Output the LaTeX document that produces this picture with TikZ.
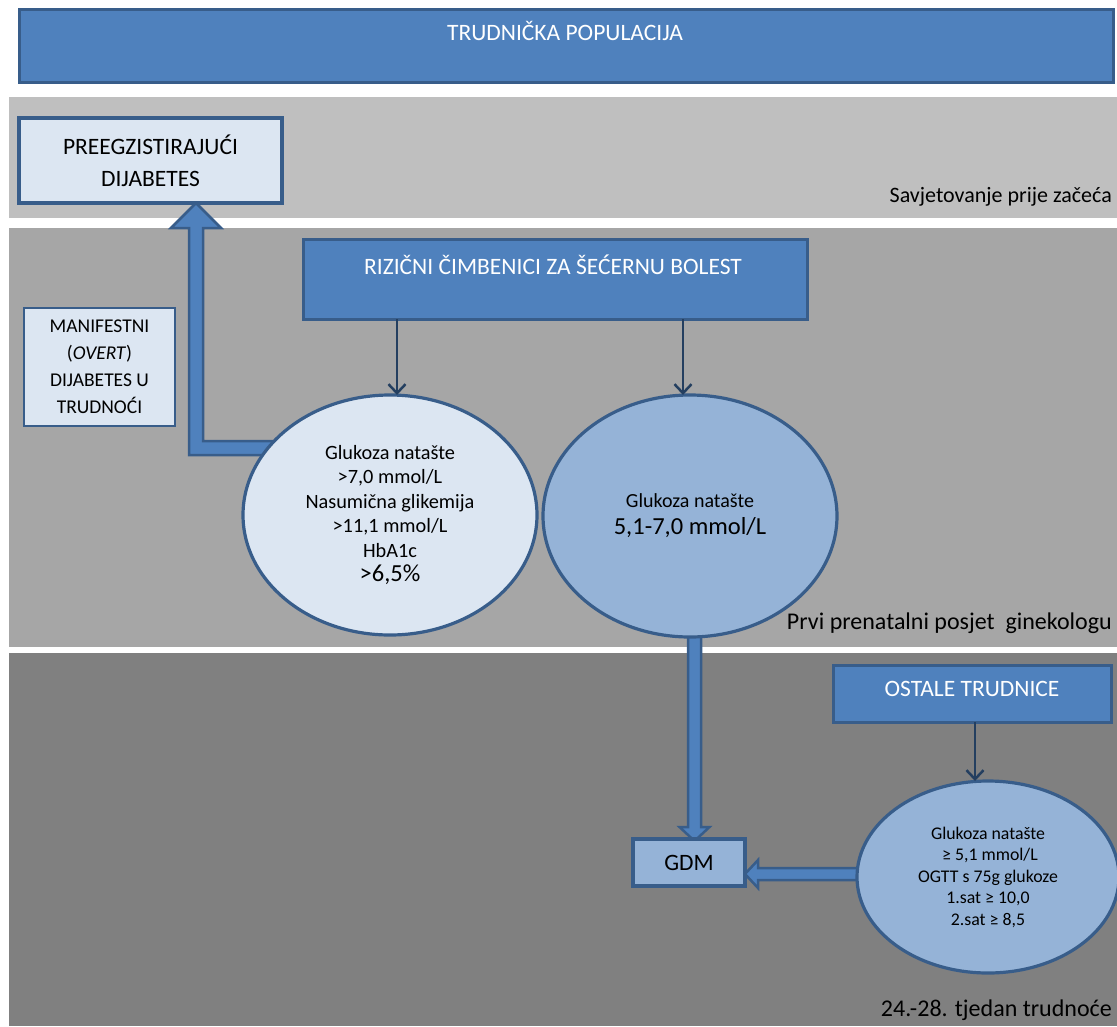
\documentclass[tikz,border=0pt]{standalone}
\usepackage{fontspec}
\setmainfont{Carlito}
\usetikzlibrary{arrows.meta,calc,shapes.geometric}
\pgfdeclarelayer{bands}
\pgfdeclarelayer{arrs}
\pgfsetlayers{bands,arrs,main}
\definecolor{blueA}{HTML}{4F81BD}
\definecolor{blueD}{HTML}{385D8A}
\definecolor{navy}{HTML}{243F60}
\definecolor{lightB}{HTML}{DCE6F2}
\definecolor{medB}{HTML}{95B3D7}
\definecolor{gA}{HTML}{BFBFBF}
\definecolor{gB}{HTML}{A6A6A6}
\definecolor{gC}{HTML}{808080}
\tikzset{
  boxD/.style={draw=blueD, fill=blueA, line width=3pt, inner sep=0pt, outer sep=0pt},
  boxL/.style={draw=blueD, fill=lightB, line width=3pt, inner sep=0pt, outer sep=0pt, align=center},
  ellM/.style={ellipse, draw=blueD, line width=3.2pt, inner sep=0pt, outer sep=0pt, align=center},
  wtxt/.style={text=white, anchor=base, inner sep=0pt, font=\fontsize{23.5}{28}\selectfont},
  lbl/.style={anchor=base east, inner sep=0pt, font=\fontsize{24}{28}\selectfont},
  thinarr/.style={draw=navy, line width=2.5pt, -{Straight Barb[length=9pt,width=17pt]}},
  blockarr/.style={fill=blueA, draw=blueD, line width=2.5pt, line join=miter},
}
\begin{document}
\begin{tikzpicture}[x=1pt,y=-1pt]
\useasboundingbox (0,0) rectangle (1117,1026);
\begin{pgfonlayer}{bands}
\fill[white] (0,0) rectangle (1117,1026);
\fill[gA] (9,97) rectangle (1117,218);
\fill[gB] (9,228) rectangle (1117,647);
\fill[gC] (9,653) rectangle (1117,1026);
\end{pgfonlayer}

% boxes
\node[boxD, minimum width=1094, minimum height=73] (top) at (566,46) {};
\node[wtxt] (toptxt) at (565,40) {TRUDNIČKA POPULACIJA};

\node[boxL, line width=4pt, minimum width=263, minimum height=85,
      font=\fontsize{23.5}{32}\selectfont] (pre) at (150.5,160.5) {PREEGZISTIRAJUĆI\\DIJABETES};

\node[boxL, line width=1.5pt, minimum width=151, minimum height=118,
      font=\fontsize{19.5}{27}\selectfont] (man) at (99.5,367) {MANIFESTNI\\(\textit{OVERT})\\DIJABETES U\\TRUDNOĆI};

\node[boxD, minimum width=504, minimum height=80] (riz) at (555,279) {};
\node[wtxt] (riztxt) at (553,274) {RIZIČNI ČIMBENICI ZA ŠEĆERNU BOLEST};

\node[ellM, fill=lightB, minimum width=294, minimum height=240,
      font=\fontsize{20.3}{24.5}\selectfont] (lell) at (390,515)
  {Glukoza natašte\\>7,0 mmol/L\\Nasumična glikemija\\>11,1 mmol/L\\HbA1c\\{\fontsize{24.5}{24.5}\selectfont >6,5\%}};

\node[ellM, fill=medB, minimum width=294, minimum height=242,
      font=\fontsize{20}{27}\selectfont] (rell) at (690,516)
  {Glukoza natašte\\{\fontsize{24.5}{27}\selectfont 5,1-7,0 mmol/L}};

\node[boxD, minimum width=278, minimum height=57] (ost) at (972,693.5) {};
\node[wtxt] (osttxt) at (972,696) {OSTALE TRUDNICE};

\node[ellM, fill=medB, minimum width=262, minimum height=192,
      font=\fontsize{17.8}{21.5}\selectfont] (bell) at (988,877)
  {Glukoza natašte\\\ ≥ 5,1 mmol/L\\OGTT s 75g glukoze\\1.sat ≥ 10,0\\2.sat ≥ 8,5};

\node[boxL, fill=medB, line width=3.5pt, minimum width=112, minimum height=47,
      font=\fontsize{23.5}{28}\selectfont] (gdm) at (689,862.5) {GDM};

% labels
\node[lbl, font=\fontsize{22}{26}\selectfont] (l1) at (1112,202) {Savjetovanje prije začeća};
\node[lbl] (l2) at (1112,629) {Prvi prenatalni posjet\ \ ginekologu};
\node[lbl] (l3) at (1112,1016) {24.-28. tjedan trudnoće};

% thick block arrows
\coordinate (bend) at (196,448);
\coordinate (vx) at (694.5,0);
\coordinate (hy) at (0,874);
\begin{pgfonlayer}{arrs}
\draw[blockarr] ($(bend -| lell.west)+(40,-7)$) -- ($(bend)+(7,-7)$)
  -- ($(bend |- pre.south)+(7,25)$) -- ($(bend |- pre.south)+(25,25)$)
  -- (bend |- pre.south)
  -- ($(bend |- pre.south)+(-25,25)$) -- ($(bend |- pre.south)+(-7,25)$)
  -- ($(bend)+(-7,7)$) -- ($(bend -| lell.west)+(40,7)$) -- cycle;
\draw[blockarr] ($(vx |- rell.south)+(-6.5,-20)$) -- ($(vx |- gdm.north)+(-6.5,-12)$)
  -- ($(vx |- gdm.north)+(-15,-12)$) -- ($(vx |- gdm.north)+(0,2)$)
  -- ($(vx |- gdm.north)+(15,-12)$) -- ($(vx |- gdm.north)+(6.5,-12)$)
  -- ($(vx |- rell.south)+(6.5,-20)$) -- cycle;
\draw[blockarr] ($(hy -| bell.west)+(20,-6)$) -- ($(hy -| gdm.east)+(13,-6)$)
  -- ($(hy -| gdm.east)+(13,-14)$) -- (hy -| gdm.east)
  -- ($(hy -| gdm.east)+(13,14)$) -- ($(hy -| gdm.east)+(13,6)$)
  -- ($(hy -| bell.west)+(20,6)$) -- cycle;
\end{pgfonlayer}

% thin arrows
\coordinate (a1) at (397,0);
\coordinate (a2) at (683,0);
\coordinate (a3) at (975,0);
\draw[thinarr] (a1 |- riz.south) -- (a1 |- lell.north);
\draw[thinarr] (a2 |- riz.south) -- (a2 |- rell.north);
\draw[thinarr] (a3 |- ost.south) -- (a3 |- bell.north);
\end{tikzpicture}
\end{document}
